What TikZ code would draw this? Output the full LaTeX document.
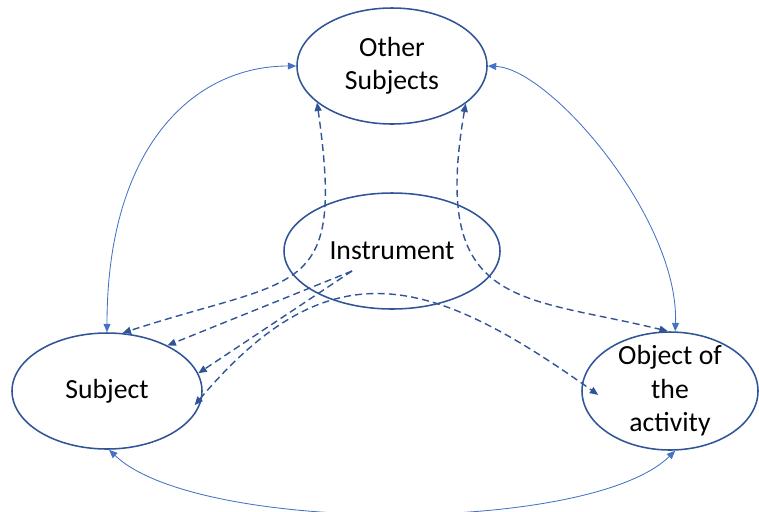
\documentclass[tikz,border=0pt]{standalone}
\usepackage{fontspec}
\setmainfont{Carlito}
\usepackage{xcolor}
\usepackage{tikz}
\usetikzlibrary{shapes.geometric,arrows.meta}

\definecolor{darkline}{HTML}{2F5597}
\definecolor{lightline}{HTML}{4472C4}

\begin{document}
\begin{tikzpicture}[
        oval/.style={draw=darkline, line width=1.1pt, ellipse, inner sep=0pt, align=center,
            font=\fontsize{19.7}{23.8}\selectfont},
        rel/.style={draw=lightline, line width=0.6pt,
            {Triangle[length=6pt,width=5pt]}-{Triangle[length=6pt,width=5pt]}},
        mediated/.style={draw=darkline, line width=1pt, dash pattern=on 5pt off 3pt,
            -{Triangle[length=6pt,width=5pt]}},
        both/.style={{Triangle[length=6pt,width=5pt]}-{Triangle[length=6pt,width=5pt]}}
    ]
                \useasboundingbox (0, 0) rectangle (18.975, -12.775);

                \node[oval, minimum width=4.75cm, minimum height=2.9cm] (other) at (9.8, -1.65) {Other\\Subjects};
                \node[oval, minimum width=5.4cm, minimum height=2.9cm] (instr) at (9.8, -6.275) {Instrument};
                \node[oval, minimum width=4.75cm, minimum height=2.9cm] (subject) at (2.675, -9.775) {Subject};
                \node[oval, minimum width=4.4cm, minimum height=2.95cm, inner ysep=-0.25cm] (object) at (16.75, -9.775) {Object of\\the\\activity};
                \coordinate (grip) at (8.8, -6.775);

                % links between the subjects and the object
                \draw[rel] (subject.north) .. controls +(0, 4.6) and +(-2.6, 0) .. (other.west);
                \draw[rel] (other.east) .. controls +(1.575, -0.075) and +(0.1, 2.8) .. (object.85);
                \draw[rel] (subject.-88) .. controls +(2.2, -2.1) and +(-2.15, -2.1) .. (object.-85);

                % links through the instrument
                \draw[mediated, both] (other.206) .. controls (8.625, -7.5) and (7.5, -6.875) .. (subject.75);
                \draw[mediated, both] (other.-27) .. controls (10.75, -7.75) and (13, -7.375) .. (object.92);
                \draw[mediated] (grip) -- (subject.37);
                \draw[mediated] (grip) -- (subject.11);
                \draw[mediated, both, shorten <=-0.3cm, shorten >=-0.5cm] (subject.-3) .. controls (8.25, -6.125) and (10.75, -6.875) .. (object.175);
            \end{tikzpicture}
\end{document}
